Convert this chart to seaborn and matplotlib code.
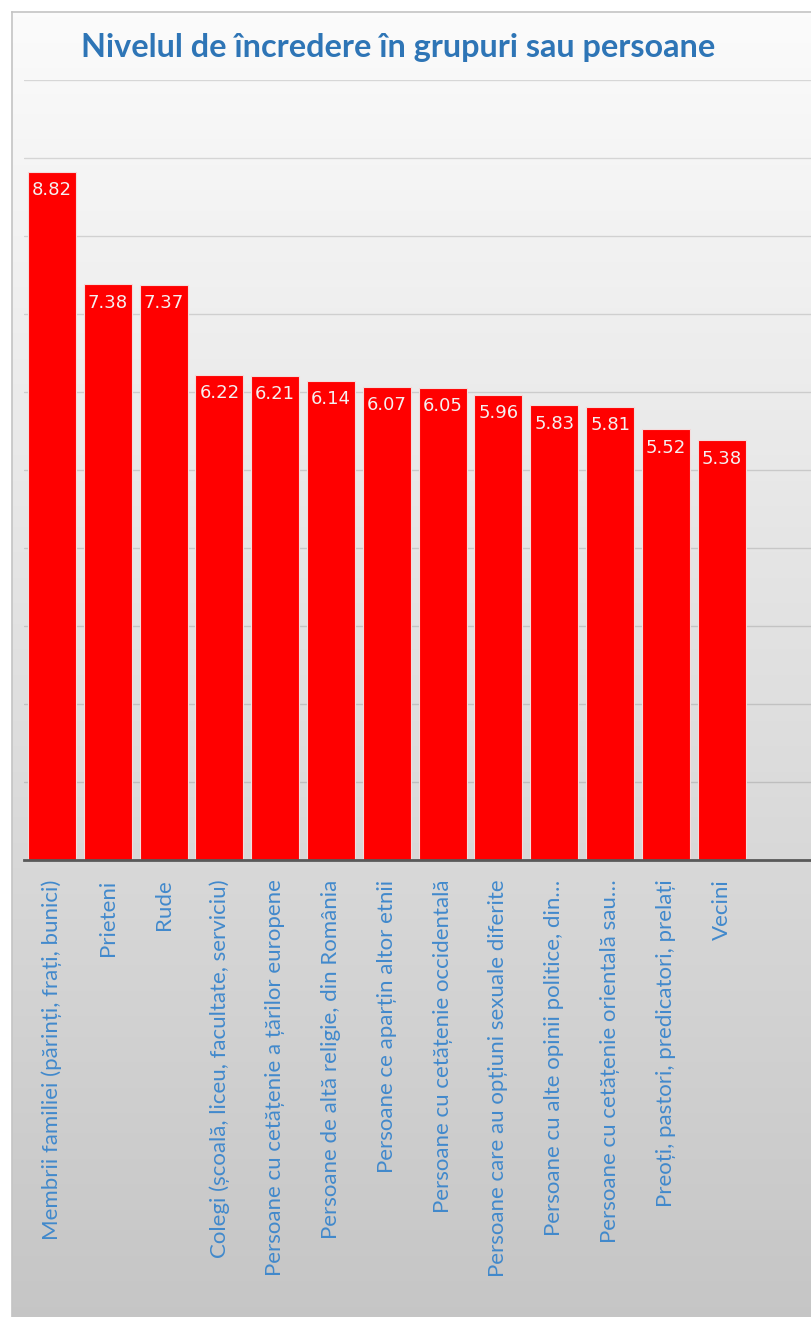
import numpy as np
import pandas as pd
import matplotlib
matplotlib.use("Agg")
import matplotlib.pyplot as plt
import seaborn as sns

categories = [
    "Membrii familiei (părinți, frați, bunici)",
    "Prieteni",
    "Rude",
    "Colegi (școală, liceu, facultate, serviciu)",
    "Persoane cu cetățenie a țărilor europene",
    "Persoane de altă religie, din România",
    "Persoane ce aparțin altor etnii",
    "Persoane cu cetățenie occidentală",
    "Persoane care au opțiuni sexuale diferite",
    "Persoane cu alte opinii politice, din…",
    "Persoane cu cetățenie orientală sau…",
    "Preoți, pastori, predicatori, prelați",
    "Vecini",
]
values = [8.82, 7.38, 7.37, 6.22, 6.21, 6.14, 6.07, 6.05, 5.96, 5.83, 5.81, 5.52, 5.38]
value_labels = ["8.82", "7.38", "7.37", "6.22", "6.21", "6.14", "6.07", "6.05", "5.96", "5.83", "5.81", "5.52", "5.38"]
title = "Nivelul de încredere în grupuri sau persoane"

df = pd.DataFrame({"cat": categories, "val": values})

sns.set_theme(style="white")
plt.rcParams["font.family"] = ["Lato", "DejaVu Sans"]

W, H = 811, 1317
fig = plt.figure(figsize=(W / 100, H / 100), dpi=100)
fig.patch.set_facecolor("white")

# gradient background frame
bg = fig.add_axes([12 / W, 0, 1 - 12 / W, 1 - 12 / H], zorder=0)
grad = np.linspace(0, 1, 256).reshape(-1, 1)
top_c, bot_c = 0.985, 0.775
img = top_c + (bot_c - top_c) * grad
bg.imshow(np.dstack([img, img, img]), aspect="auto", extent=[0, 1, 0, 1], origin="upper")
bg.set_xlim(0, 1); bg.set_ylim(0, 1)
bg.set_xticks([]); bg.set_yticks([])
for s in bg.spines.values():
    s.set_color("#c4c4c4"); s.set_linewidth(1.2)
bg.spines["right"].set_visible(False)
bg.spines["bottom"].set_visible(False)

ax = fig.add_axes([24 / W, 457 / H, 1 - 24 / W, (1237 - 457) / H], zorder=1)
ax.patch.set_alpha(0)
sns.barplot(data=df, x="cat", y="val", color="#ff0000", saturation=1, width=0.86,
            edgecolor="#f4dcdc", linewidth=0.8, ax=ax, zorder=3)
ax.set_xlim(-0.5, 13.6)
ax.set_ylim(0, 10)
ax.set_yticks(np.arange(1, 11))
ax.set_yticklabels([])
ax.yaxis.grid(True, color="black", alpha=0.13, linewidth=1.0, zorder=0)
ax.set_axisbelow(True)
ax.set_xlabel(""); ax.set_ylabel("")
for s in ["top", "right", "left"]:
    ax.spines[s].set_visible(False)
ax.spines["bottom"].set_color("#595959")
ax.spines["bottom"].set_linewidth(2)
ax.spines["bottom"].set_zorder(5)
ax.tick_params(axis="x", length=0, pad=14)
ax.tick_params(axis="y", length=0)
plt.setp(ax.get_xticklabels(), rotation=90, ha="center", va="top",
         color="#4189cc", fontsize=16)

for i, (v, lab) in enumerate(zip(values, value_labels)):
    ax.text(i, v - 0.12, lab, ha="center", va="top", color="#f5f0f0",
            fontsize=13, family=["DejaVu Sans"], zorder=6)

fig.text(398.5 / W, 1 - 48 / H, title, ha="center", va="center",
         color="#2e75b6", fontsize=23.3, fontweight="bold")

fig.savefig("out.png", dpi=100)
